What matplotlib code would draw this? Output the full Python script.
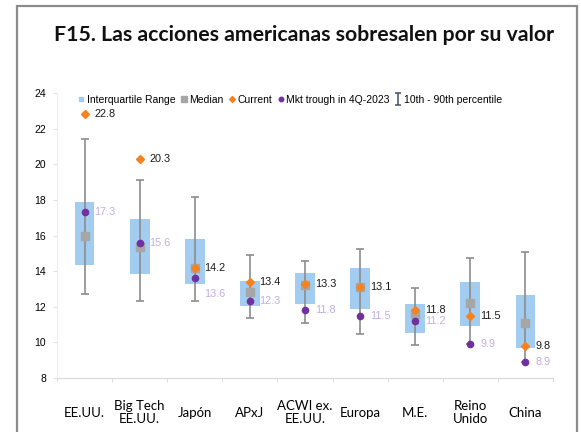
import numpy as np
import matplotlib
matplotlib.use("Agg")
import matplotlib.pyplot as plt
from matplotlib.lines import Line2D
from matplotlib.patches import Rectangle
from matplotlib.path import Path

# datos (P/E forward)
categorias = ["EE.UU.", "Big Tech\nEE.UU.", "Japón", "APxJ", "ACWI ex.\nEE.UU.",
              "Europa", "M.E.", "Reino\nUnido", "China"]
p10 = [12.7, 12.3, 12.3, 11.35, 11.1, 10.45, 9.85, 9.9, 8.9]
p90 = [21.4, 19.1, 18.15, 14.9, 14.55, 15.25, 13.05, 14.75, 15.1]
q1 = [14.35, 13.85, 13.25, 12.05, 12.15, 11.9, 10.5, 10.9, 9.7]
q3 = [17.9, 16.9, 15.8, 13.45, 13.9, 14.2, 12.15, 13.4, 12.65]
mediana = [15.95, 15.35, 14.2, 12.85, 13.2, 13.1, 11.6, 12.2, 11.1]
actual = [22.8, 20.3, 14.2, 13.4, 13.3, 13.1, 11.8, 11.5, 9.8]
minimo_4q23 = [17.3, 15.6, 13.6, 12.3, 11.8, 11.5, 11.2, 9.9, 8.9]

# desplazamiento vertical (pt) de las etiquetas del minimo
desp_minimo = [0, 0, -11, 0, 0, 0, 0, 0, 0]

arial = "Liberation Sans"
calibri = "Lato"

c_caja = "#A3CDF0"
c_bigote = "#8C8C8C"
c_mediana = "#A6A6A6"
c_actual = "#F5821F"
c_minimo = "#7030A0"
c_etq_minimo = "#C3AEE0"

fig = plt.figure(figsize=(5.81, 4.32), dpi=100)
ax = fig.add_axes([57/581, 1-378/432, 496/581, 285/432])

x = np.arange(len(categorias))
ax.bar(x, np.array(q3) - np.array(q1), bottom=q1, width=0.36, color=c_caja, zorder=1)
mid = (np.array(p90) + np.array(p10)) / 2
err = (np.array(p90) - np.array(p10)) / 2
ax.errorbar(x, mid, yerr=err, fmt="none", ecolor=c_bigote, elinewidth=1.2,
            capsize=3, capthick=1.2, zorder=2)
ax.plot(x, mediana, "s", color=c_mediana, ms=5.5, zorder=3)
ax.plot(x, minimo_4q23, "o", color=c_minimo, ms=4.5, zorder=4)
ax.plot(x, actual, "D", color=c_actual, ms=4.5, zorder=5)

for i in range(len(x)):
    ax.annotate(f"{actual[i]:.1f}", (x[i], actual[i]), xytext=(7, 0),
                textcoords="offset points", va="center", ha="left",
                fontsize=7.8, family=arial, color="#1A1A1A")
    ax.annotate(f"{minimo_4q23[i]:.1f}", (x[i], minimo_4q23[i]),
                xytext=(7, desp_minimo[i]), textcoords="offset points",
                va="center", ha="left", fontsize=7.8, family=arial,
                color=c_etq_minimo)

ax.set_xlim(-0.5, len(x) - 0.5)
ax.set_ylim(8, 24)
ax.set_yticks(np.arange(8, 25, 2))
ax.tick_params(axis="y", length=3, color="#E3E3E3", pad=5, labelsize=7.5)
for t in ax.get_yticklabels():
    t.set_family(arial)

ax.set_xticks(x)
ax.set_xticklabels(categorias, fontsize=9.5, family=calibri, linespacing=1.1)
ax.set_xticks(np.arange(-0.5, len(x)), minor=True)
ax.tick_params(axis="x", which="major", length=0, pad=25)
ax.tick_params(axis="x", which="minor", length=3, color="#D9D9D9")
for t in ax.get_xticklabels():
    t.set_va("center")

for s in ["top", "right"]:
    ax.spines[s].set_visible(False)
ax.spines["bottom"].set_color("#D9D9D9")
ax.spines["left"].set_color("#EEEEEE")

# simbolo tipo "I" para el rango 10-90
marca_i = Path([(0, -1), (0, 1), (-0.6, 1), (0.6, 1), (-0.6, -1), (0.6, -1)],
               [Path.MOVETO, Path.LINETO, Path.MOVETO, Path.LINETO,
                Path.MOVETO, Path.LINETO])

handles = [
    Line2D([], [], marker="s", ls="none", color=c_caja, ms=2.5),
    Line2D([], [], marker="s", ls="none", color=c_mediana, ms=4.5),
    Line2D([], [], marker="D", ls="none", color=c_actual, ms=3),
    Line2D([], [], marker="o", ls="none", color=c_minimo, ms=3.2),
    Line2D([], [], marker=marca_i, ls="none", color="#44546A", ms=8, mew=1.1),
]
etiquetas = ["Interquartile Range", "Median", "Current",
             "Mkt trough in 4Q-2023", "10th - 90th percentile"]
ax.legend(handles, etiquetas, loc="center left", bbox_to_anchor=(0.043, 0.975),
          ncol=5, frameon=False, handlelength=0.5, handletextpad=0.3,
          columnspacing=0.55, borderpad=0, borderaxespad=0,
          prop={"family": arial, "size": 7.5})

fig.text(304/581, 1-41/432, "F15. Las acciones americanas sobresalen por su valor",
         ha="center", va="baseline", fontsize=15.3, fontweight="bold",
         family=calibri, color="#111111")

fig.patches.append(Rectangle((17/581, -0.1), 560/581, 1.1-6/432, fill=False,
                             ec="#8C8C8C", lw=1.6, transform=fig.transFigure))

fig.savefig("out.png", dpi=100)
